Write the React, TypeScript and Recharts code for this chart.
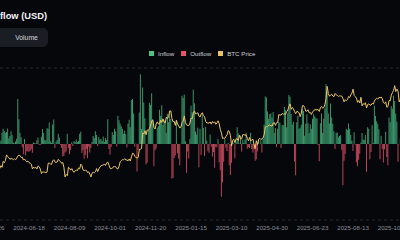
import { ComposedChart, Bar, Line, XAxis, YAxis, CartesianGrid } from 'recharts'

// one label every 36 trading days, first one is the first row
const tickLabels = [
  '2024-04-26', '2024-06-18', '2024-08-09', '2024-10-01', '2024-11-20', '2025-01-15',
  '2025-03-10', '2025-04-30', '2025-06-23', '2025-08-13', '2025-10-03',
]
const TICK_EVERY = 36

// daily net ETF flow in USD millions, one entry per trading day from 2024-04-26
const netFlow = [
  -218, -50, -162, -564, 20, 378, 217, -15, -11, 0,
  10, 67, 220, 303, 257, 222, 237, 305, 107, 160,
  250, 180, 30, 15, 50, 105, 887, 488, 217, 131,
  -65, -200, 100, -226, -145, -146, -152, -140, -106, -174,
  31, 21, 12, 73, 129, -13, -20, 143, 295, 216,
  78, 73, 310, 301, 422, 53, 19, 384, 486, -78,
  44, 80, 200, 124, -18, -80, -240, -237, -168, -148,
  200, -80, -200, -120, 35, -40, 60, 40, 88, 40,
  60, 200, 240, -180, -120, -290, -220, -100, -280, -50,
  -170, -80, 40, 160, 120, 250, 180, -40, 140, 90,
  100, 60, 150, 40, 120, 80, 490, -100, -210, -60,
  230, 180, 300, 250, -50, 560, 470, 400, 350, 300,
  200, 260, 190, -70, 400, 480, 330, 870, 890, 600,
  -54, 10, -541, -116, 621, 1376, 294, 1114, 817, 510,
  -400, -370, 255, 816, 773, 1000, 490, -438, -122, -90,
  320, 353, 676, 556, 766, 376, 479, 438, 223, 598,
  428, 637, 493, -680, -672, -277, -226, 475, -183, -288,
  -426, 5, 953, 908, 978, 52, -568, -149, -284, 100,
  755, 626, 1070, 802, 249, 188, 319, -458, 300, -210,
  588, 318, -235, 340, 66, -140, -171, 186, -56, -251,
  -156, -470, -60, -65, 94, -360, -516, -1040, -755, -350,
  94, -74, -143, 22, -420, -610, -371, 40, 13, -280,
  41, 330, 209, 11, 165, -150, 84, 27, 89, 220,
  -93, -60, -80, 220, -100, -170, -110, -330, -300, -150,
  100, 1, 76, -170, 107, 381, 936, 917, 640, 500,
  591, 600, 520, 630, 220, 315, -60, 300, 435, 420,
  -80, 375, 370, 730, 667, 329, 607, 965, 935, 590,
  386, 432, -347, -616, 430, 560, 300, 320, 380, 690,
  650, 165, 400, 580, 408, 217, 389, 300, 500, 589,
  548, 510, 501, -20, -342, 408, 602, 217, 500, 700,
  1180, 1030, 600, 403, 799, 522, 400, 250, -100, 220,
  226, 130, 157, 180, -114, -812, -333, -196, 300, 277,
  404, 300, 178, 65, -140, 231, -14, -360, -440, -311,
  -194, 23, 219, 88, 81, 179, -550, 333, 301, -300,
  -160, 368, 23, 757, 553, 450, 400, 292, -300, 163,
  -100, -363, -104, 241, -258, -418, 522, 430, 750, 700,
  950, 850, 600, 441, -350, -4, 102, -326,
]

// BTC close in USD thousands, same days
const btcPrice = [
  63.8, 63.4, 60.6, 58.3, 59.1, 62.9, 63.2, 62.3, 61.2, 63.1,
  60.8, 62.9, 61.6, 66.3, 65.2, 67.0, 71.4, 70.1, 69.1, 67.9,
  68.5, 68.4, 67.6, 68.4, 67.5, 68.8, 70.5, 71.1, 70.8, 69.3,
  69.6, 67.3, 68.2, 66.8, 66.0, 66.5, 65.2, 64.9, 64.1, 60.3,
  61.8, 60.9, 61.6, 60.3, 62.7, 62.0, 60.2, 56.7, 58.0, 57.9,
  57.7, 57.3, 57.9, 64.8, 65.1, 64.1, 63.9, 66.7, 67.6, 65.9,
  65.4, 65.8, 67.9, 66.8, 66.2, 64.6, 65.4, 61.4, 54.0, 56.0,
  55.0, 61.7, 60.9, 59.4, 60.6, 58.7, 57.6, 58.9, 59.4, 59.0,
  61.1, 60.4, 64.1, 62.9, 59.5, 59.0, 59.4, 59.1, 57.5, 58.0,
  56.2, 54.0, 57.0, 57.7, 57.3, 58.1, 60.6, 58.2, 60.3, 61.8,
  62.9, 63.2, 63.3, 64.3, 63.1, 65.2, 65.8, 63.3, 60.8, 60.6,
  60.8, 62.1, 62.2, 62.1, 60.6, 60.3, 62.4, 66.0, 67.0, 67.6,
  67.4, 68.4, 67.4, 67.4, 66.7, 68.2, 66.6, 69.9, 72.7, 72.3,
  70.2, 69.5, 68.8, 69.4, 75.6, 75.9, 76.5, 88.7, 88.0, 90.5,
  87.3, 91.1, 90.5, 92.3, 94.3, 98.3, 98.9, 93.0, 91.9, 95.9,
  97.5, 95.8, 96.0, 98.8, 97.0, 99.9, 97.4, 96.6, 101.2, 100.0,
  101.5, 106.1, 106.1, 100.0, 97.5, 97.8, 94.7, 98.7, 95.8, 94.2,
  92.6, 93.4, 96.9, 98.1, 102.1, 96.9, 95.0, 94.7, 94.5, 96.5,
  100.5, 99.9, 104.4, 106.1, 103.7, 104.0, 104.7, 102.0, 101.3, 103.7,
  104.7, 102.4, 101.4, 97.9, 96.6, 96.6, 96.5, 97.4, 95.7, 97.8,
  96.6, 97.5, 95.6, 96.6, 98.3, 96.1, 91.4, 88.7, 84.3, 84.7,
  84.4, 86.1, 87.2, 90.6, 89.9, 86.7, 78.5, 82.9, 83.7, 81.1,
  84.0, 84.1, 82.7, 86.9, 84.2, 84.0, 87.5, 87.4, 86.9, 87.2,
  84.4, 82.5, 85.2, 82.5, 83.1, 83.8, 79.2, 76.3, 82.6, 79.6,
  83.4, 84.6, 83.6, 84.0, 84.9, 87.5, 93.4, 93.7, 93.9, 94.7,
  95.0, 94.3, 94.2, 96.5, 96.9, 94.7, 96.8, 97.0, 103.2, 102.9,
  102.8, 104.1, 103.5, 103.7, 103.5, 105.6, 106.8, 109.7, 111.7, 107.3,
  108.9, 107.8, 105.6, 103.9, 105.8, 105.4, 104.7, 101.6, 104.4, 110.3,
  110.3, 108.7, 105.9, 106.0, 107.0, 104.6, 104.9, 103.3, 105.5, 106.0,
  107.3, 106.9, 107.1, 107.1, 105.7, 108.8, 109.6, 108.2, 108.9, 111.3,
  115.9, 125.5, 119.8, 117.7, 118.7, 119.3, 117.9, 117.4, 119.9, 118.8,
  118.3, 117.6, 118.0, 117.9, 117.8, 115.8, 113.3, 115.0, 114.1, 115.0,
  117.5, 116.7, 118.7, 120.2, 123.3, 118.3, 117.4, 116.2, 112.9, 114.3,
  112.4, 116.9, 110.1, 111.8, 111.2, 112.6, 108.4, 111.2, 111.7, 110.7,
  110.7, 112.1, 111.5, 113.9, 115.5, 116.1, 115.4, 116.8, 116.5, 117.1,
  115.7, 112.7, 112.0, 113.3, 109.0, 109.6, 114.4, 114.1, 118.6, 120.6,
  122.3, 126.0, 121.4, 123.3, 121.7, 113.2, 115.3, 113.0,
]

const data = netFlow.map((v, i) => ({
  i,
  inflow: v > 0 ? v : 0,
  outflow: v < 0 ? v : 0,
  price: btcPrice[i],
}))

const BG = '#06070b'
const GREEN = '#4cc38a'
const RED = '#e5546c'
const YELLOW = '#e9c467'

const legendItems = [
  { name: 'Inflow', color: GREEN },
  { name: 'Outflow', color: RED },
  { name: 'BTC Price', color: YELLOW },
]

export default function App() {
  return (
    <div
      style={{
        position: 'fixed',
        left: 0,
        top: 0,
        width: 400,
        height: 240,
        overflow: 'hidden',
        background: BG,
        fontFamily: '"Liberation Sans", Arial, sans-serif',
      }}
    >
      <div
        style={{
          position: 'absolute',
          left: 0,
          top: 10,
          fontSize: 9.3,
          lineHeight: '12px',
          fontWeight: 700,
          color: '#f2f3f5',
          whiteSpace: 'nowrap',
        }}
      >
        flow (USD)
      </div>
      <div
        style={{
          position: 'absolute',
          left: -6,
          top: 28,
          width: 54,
          height: 19,
          paddingLeft: 11,
          boxSizing: 'border-box',
          borderRadius: 5,
          background: '#1b1d24',
          color: '#d4d6dc',
          fontSize: 6.8,
          display: 'flex',
          alignItems: 'center',
          justifyContent: 'center',
        }}
      >
        Volume
      </div>
      <div
        style={{
          position: 'absolute',
          left: 149,
          top: 50,
          height: 7,
          display: 'flex',
          alignItems: 'center',
          fontSize: 6.2,
          color: '#cdd0d6',
          whiteSpace: 'nowrap',
        }}
      >
        {legendItems.map((item) => (
          <div key={item.name} style={{ display: 'flex', alignItems: 'center', marginRight: 7 }}>
            <span style={{ width: 5, height: 5, background: item.color, marginRight: 4 }} />
            <span>{item.name}</span>
          </div>
        ))}
      </div>
      <div style={{ position: 'absolute', left: -12, top: 0 }}>
        <ComposedChart
          width={414}
          height={240}
          data={data}
          stackOffset='sign'
          barCategoryGap={0}
          margin={{ top: 68, right: 0, bottom: 0, left: 0 }}
        >
          <CartesianGrid vertical={false} stroke='#272a35' strokeDasharray='3 3' />
          <XAxis
            dataKey='i'
            height={20}
            interval={TICK_EVERY - 1}
            axisLine={false}
            tickLine={false}
            tickSize={4}
            tick={{ fill: '#8a8e99', fontSize: 6.2 }}
            tickFormatter={(v) => tickLabels[v / TICK_EVERY] ?? ''}
          />
          <YAxis
            yAxisId='flow'
            width={0}
            domain={[-1500, 1500]}
            ticks={[-1500, -1000, -500, 0, 500, 1000, 1500]}
            tick={false}
            axisLine={false}
            tickLine={false}
          />
          <YAxis
            yAxisId='price'
            orientation='right'
            width={0}
            domain={[20, 140]}
            tick={false}
            axisLine={false}
            tickLine={false}
          />
          <Bar yAxisId='flow' dataKey='inflow' stackId='flow' fill={GREEN} fillOpacity={0.75} isAnimationActive={false} />
          <Bar yAxisId='flow' dataKey='outflow' stackId='flow' fill={RED} fillOpacity={0.8} isAnimationActive={false} />
          <Line
            yAxisId='price'
            dataKey='price'
            type='linear'
            stroke={YELLOW}
            strokeWidth={1}
            dot={false}
            isAnimationActive={false}
          />
        </ComposedChart>
      </div>
    </div>
  )
}
